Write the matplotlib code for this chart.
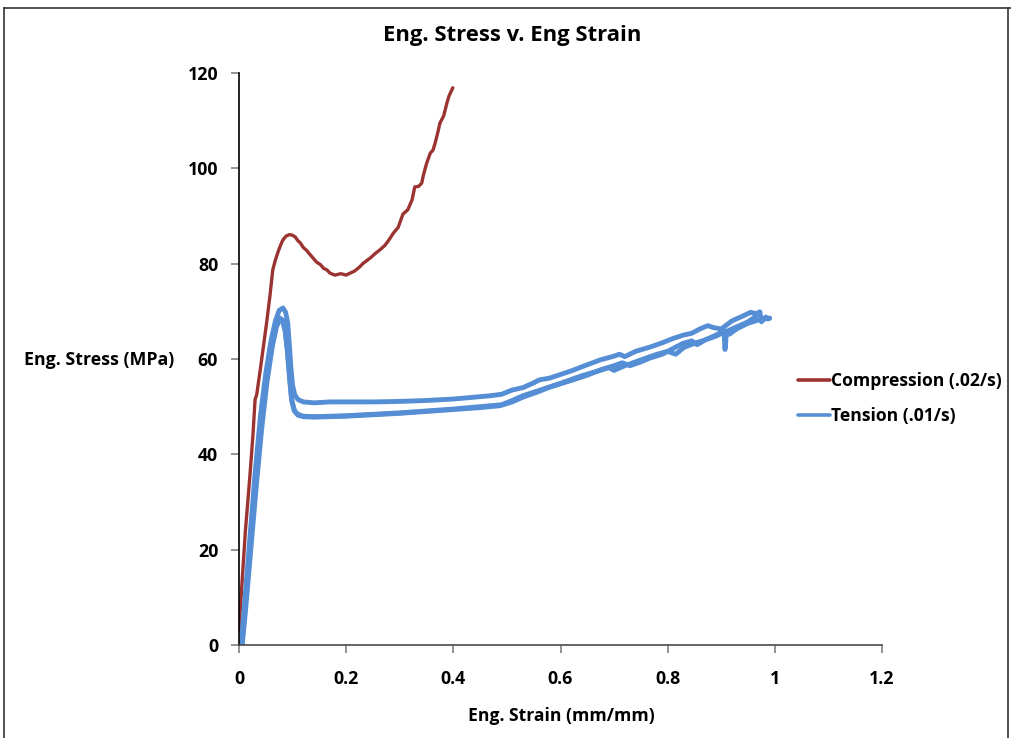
import matplotlib.pyplot as plt
from matplotlib.lines import Line2D

# Compression test (.02/s)
comp_strain = [0.0, 0.005, 0.012, 0.02, 0.026, 0.03, 0.033, 0.04, 0.046, 0.052, 0.058,
               0.063, 0.068, 0.073, 0.078, 0.082, 0.088, 0.094, 0.099, 0.105, 0.11,
               0.114, 0.12, 0.126, 0.132, 0.138, 0.145, 0.152, 0.158, 0.164, 0.17,
               0.179, 0.19, 0.2, 0.207, 0.215, 0.224, 0.232, 0.245, 0.255, 0.263,
               0.272, 0.28, 0.288, 0.297, 0.306, 0.315, 0.323, 0.326, 0.328, 0.335,
               0.341, 0.344, 0.35, 0.357, 0.362, 0.366, 0.371, 0.375, 0.382, 0.388,
               0.392, 0.397, 0.399]
comp_stress = [3.0, 12.0, 24.0, 35.0, 44.0, 51.5, 52.5, 58.0, 63.0, 68.0, 73.5,
               78.7, 80.8, 82.5, 84.0, 85.0, 85.8, 86.1, 86.0, 85.6, 84.8,
               84.4, 83.4, 82.8, 82.0, 81.2, 80.3, 79.8, 79.0, 78.7, 78.0,
               77.6, 77.9, 77.6, 78.0, 78.4, 79.2, 80.1, 81.2, 82.2, 82.9,
               83.8, 85.0, 86.4, 87.6, 90.4, 91.3, 93.4, 95.0, 96.1, 96.2,
               96.9, 98.5, 101.0, 103.2, 103.8, 105.3, 107.5, 109.5, 111.0, 113.7,
               115.2, 116.4, 116.9]

# Tension tests (.01/s) - three specimens
ten_a_strain = [0.004, 0.01, 0.02, 0.03, 0.04, 0.05, 0.06, 0.068, 0.075, 0.082, 0.087,
                0.091, 0.094, 0.097, 0.1, 0.104, 0.11, 0.12, 0.14, 0.17, 0.2, 0.25,
                0.3, 0.35, 0.4, 0.44, 0.47, 0.49, 0.51, 0.53, 0.55, 0.56, 0.58,
                0.62, 0.65, 0.674, 0.7, 0.71, 0.72, 0.74, 0.767, 0.79, 0.81, 0.829,
                0.845, 0.86, 0.875, 0.885, 0.9, 0.92, 0.94, 0.955, 0.965, 0.972,
                0.975, 0.983, 0.987]
ten_a_stress = [0.0, 8.0, 22.0, 36.0, 48.0, 57.0, 64.0, 68.0, 70.2, 70.7, 69.8,
                67.5, 63.0, 58.0, 54.5, 52.5, 51.5, 51.0, 50.8, 51.0, 51.0, 51.0,
                51.1, 51.3, 51.6, 52.0, 52.3, 52.6, 53.5, 54.0, 55.0, 55.6, 56.0,
                57.5, 58.8, 59.8, 60.6, 61.0, 60.5, 61.6, 62.5, 63.4, 64.3, 65.0,
                65.4, 66.3, 67.0, 66.6, 66.3, 68.0, 69.0, 69.8, 69.5, 69.9,
                67.8, 68.8, 68.4]

ten_b_strain = [0.006, 0.012, 0.022, 0.032, 0.042, 0.052, 0.062, 0.07, 0.077, 0.082,
                0.087, 0.091, 0.095, 0.099, 0.104, 0.11, 0.12, 0.14, 0.17, 0.2, 0.25,
                0.3, 0.35, 0.4, 0.45, 0.487, 0.51, 0.53, 0.56, 0.58, 0.62, 0.65,
                0.674, 0.7, 0.715, 0.73, 0.75, 0.767, 0.79, 0.81, 0.829, 0.845,
                0.855, 0.87, 0.89, 0.905, 0.915, 0.93, 0.95, 0.97, 0.99]
ten_b_stress = [0.0, 7.0, 20.0, 33.0, 45.0, 55.0, 62.5, 66.8, 68.4, 68.0,
                65.5, 61.0, 55.5, 51.0, 49.0, 48.2, 47.9, 47.8, 47.9, 48.0, 48.3,
                48.6, 49.0, 49.4, 49.8, 50.2, 51.0, 52.0, 53.2, 54.1, 55.5, 56.6,
                57.7, 58.6, 59.2, 58.6, 59.4, 60.2, 61.0, 62.2, 63.3, 63.8,
                63.0, 64.0, 64.8, 65.6, 65.2, 66.4, 67.5, 68.2, 68.6]

ten_c_strain = [0.005, 0.011, 0.021, 0.031, 0.041, 0.051, 0.061, 0.069, 0.076, 0.081,
                0.086, 0.09, 0.094, 0.098, 0.103, 0.11, 0.12, 0.14, 0.17, 0.2, 0.25,
                0.3, 0.35, 0.4, 0.45, 0.49, 0.51, 0.53, 0.56, 0.6, 0.64, 0.674,
                0.69, 0.7, 0.72, 0.75, 0.78, 0.8, 0.815, 0.83, 0.85, 0.87, 0.89,
                0.9, 0.905, 0.907, 0.91, 0.93, 0.95, 0.96, 0.97, 0.975, 0.99]
ten_c_stress = [0.0, 7.5, 21.0, 34.0, 46.0, 55.5, 63.0, 67.0, 68.6, 68.2,
                66.0, 62.0, 56.5, 51.5, 49.2, 48.4, 48.0, 47.9, 48.0, 48.1, 48.4,
                48.7, 49.1, 49.5, 50.0, 50.4, 51.3, 52.3, 53.4, 54.9, 56.5, 57.6,
                58.2, 57.6, 58.6, 59.8, 61.0, 61.6, 61.0, 62.4, 63.3, 64.0, 65.0,
                65.6, 66.0, 62.0, 65.8, 66.8, 67.8, 68.6, 69.6, 68.4, 68.5]

RED = '#9B3431'
BLUE = '#558ED5'

plt.rcParams['font.family'] = ['Open Sans', 'DejaVu Sans']
plt.rcParams['font.weight'] = 'bold'

fig = plt.figure(figsize=(10.11, 7.38), dpi=100)
ax = fig.add_axes([239 / 1011, 1 - 645 / 738, 643 / 1011, 572 / 738])

ax.plot(comp_strain, comp_stress, color=RED, linewidth=2.4, label='Compression (.02/s)',
        solid_joinstyle='round', solid_capstyle='round')
ax.plot(ten_a_strain, ten_a_stress, color=BLUE, linewidth=3.5, label='Tension (.01/s)',
        solid_joinstyle='round', solid_capstyle='round')
ax.plot(ten_b_strain, ten_b_stress, color=BLUE, linewidth=3.5,
        solid_joinstyle='round', solid_capstyle='round')
ax.plot(ten_c_strain, ten_c_stress, color=BLUE, linewidth=3.5,
        solid_joinstyle='round', solid_capstyle='round')

ax.set_xlim(0, 1.2)
ax.set_ylim(0, 120)
ax.set_xticks([0, 0.2, 0.4, 0.6, 0.8, 1.0, 1.2])
ax.set_xticklabels(['0', '0.2', '0.4', '0.6', '0.8', '1', '1.2'])
ax.set_yticks(range(0, 121, 20))

for side in ['top', 'right']:
    ax.spines[side].set_visible(False)
ax.spines['bottom'].set_color('#4a4a4a')
ax.spines['left'].set_color('#000000')
for side in ['left', 'bottom']:
    ax.spines[side].set_linewidth(1.2)

ax.tick_params(axis='both', direction='out', length=6, width=1.2, color='#808080',
               labelsize=12.8, labelcolor='black')
ax.tick_params(axis='x', pad=12)
ax.tick_params(axis='y', pad=9)
for lbl in ax.get_xticklabels() + ax.get_yticklabels():
    lbl.set_fontweight('bold')

fig.text(512 / 1011, 1 - 35 / 738, 'Eng. Stress v. Eng Strain', ha='center', va='center',
         fontsize=15.8, fontweight='bold')
fig.text(561 / 1011, 1 - 716 / 738, 'Eng. Strain (mm/mm)', ha='center', va='center',
         fontsize=12.6, fontweight='bold')
fig.text(99 / 1011, 1 - 360 / 738, 'Eng. Stress (MPa)', ha='center', va='center',
         fontsize=12.8, fontweight='bold')

leg = fig.legend(loc='center left', bbox_to_anchor=(798 / 1011, 1 - 398.5 / 738),
                 frameon=False, fontsize=12.6, handlelength=1.8, handletextpad=0.1,
                 labelspacing=1.0, borderaxespad=0.0, borderpad=0.0)
for t in leg.get_texts():
    t.set_fontweight('bold')
for h in leg.get_lines():
    h.set_linewidth(2.6)

# chart border
fig.add_artist(Line2D([3.5 / 1011, 3.5 / 1011], [1 - 7.5 / 738, -0.01], color='#333333',
                      linewidth=1.2, transform=fig.transFigure))
fig.add_artist(Line2D([3.5 / 1011, 1.01], [1 - 7.5 / 738, 1 - 7.5 / 738], color='#333333',
                      linewidth=1.2, transform=fig.transFigure))
fig.add_artist(Line2D([1007.5 / 1011, 1007.5 / 1011], [1 - 7.5 / 738, -0.01],
                      color='#333333', linewidth=1.2, transform=fig.transFigure))

fig.savefig('out.png', dpi=100)
